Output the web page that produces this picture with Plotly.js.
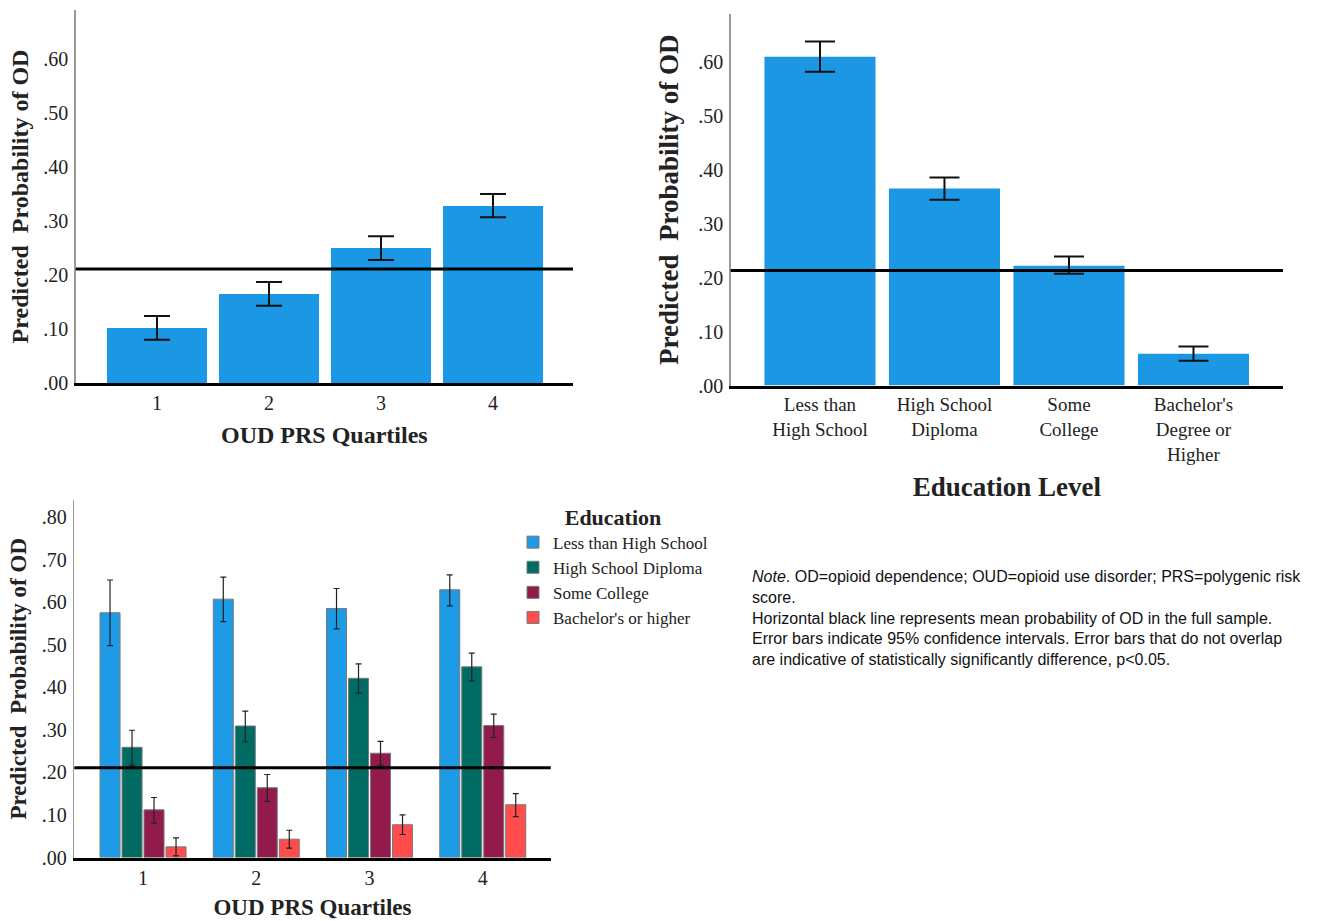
<!DOCTYPE html>
<html>
<head>
<meta charset="utf-8">
<script src="https://cdn.plot.ly/plotly-3.0.1.min.js"></script>
<style>
  html, body { margin: 0; padding: 0; background: #ffffff; }
  #chart { width: 1336px; height: 921px; }
</style>
</head>
<body>
<div id="chart"></div>
<script>
// ---------- DATA ----------
// Panel A: predicted probability of OD by OUD PRS quartile
const quartileLabels = ['1', '2', '3', '4'];
const quartileProb   = [0.102, 0.165, 0.250, 0.328];
const quartileLower  = [0.080, 0.143, 0.228, 0.307];
const quartileUpper  = [0.124, 0.187, 0.272, 0.350];

// Panel B: predicted probability of OD by education level
const educationLabels = ['Less than<br>High School', 'High School<br>Diploma', 'Some<br>College', "Bachelor's<br>Degree or<br>Higher"];
const educationProb   = [0.609, 0.365, 0.222, 0.059];
const educationLower  = [0.581, 0.344, 0.207, 0.046];
const educationUpper  = [0.637, 0.385, 0.239, 0.072];

// Panel C: by quartile and education
const groupNames = ['Less than High School', 'High School Diploma', 'Some College', "Bachelor's or higher"];
const lessThanHS      = [0.575, 0.607, 0.585, 0.629];
const lessThanHSLower = [0.498, 0.554, 0.537, 0.591];
const lessThanHSUpper = [0.652, 0.659, 0.632, 0.664];
const hsDiploma       = [0.259, 0.309, 0.421, 0.448];
const hsDiplomaLower  = [0.217, 0.272, 0.386, 0.415];
const hsDiplomaUpper  = [0.299, 0.344, 0.455, 0.480];
const someCollege      = [0.112, 0.164, 0.245, 0.310];
const someCollegeLower = [0.081, 0.132, 0.217, 0.282];
const someCollegeUpper = [0.141, 0.195, 0.273, 0.337];
const bachelors      = [0.025, 0.043, 0.077, 0.124];
const bachelorsLower = [0.004, 0.022, 0.054, 0.096];
const bachelorsUpper = [0.046, 0.064, 0.100, 0.150];

// mean probability of OD in the full sample (horizontal line) per panel
const meanProb = [0.211, 0.213, 0.211];

// y tick labels
const tickValsTop = [0, 0.1, 0.2, 0.3, 0.4, 0.5, 0.6];
const tickTextTop = ['.00', '.10', '.20', '.30', '.40', '.50', '.60'];
const tickValsBottom = [0, 0.1, 0.2, 0.3, 0.4, 0.5, 0.6, 0.7, 0.8];
const tickTextBottom = ['.00', '.10', '.20', '.30', '.40', '.50', '.60', '.70', '.80'];

const noteLines = [
  '<i>Note</i>. OD=opioid dependence; OUD=opioid use disorder; PRS=polygenic risk',
  'score.',
  'Horizontal black line represents mean probability of OD in the full sample.',
  'Error bars indicate 95% confidence intervals. Error bars that do not overlap',
  'are indicative of statistically significantly difference, p&lt;0.05.'
];

// ---------- STYLE ----------
const W = 1336, H = 921;
const SERIF = '"Liberation Serif", "Times New Roman", serif';
const SANS = '"Liberation Sans", Arial, sans-serif';
const topBlue = '#1b97e3';
const groupColors = ['#1e9be6', '#006b62', '#931b4c', '#ff4d4d'];

function px(a, b) { return [a / W, b / W]; }
function py(top, bottom) { return [1 - bottom / H, 1 - top / H]; }
function diff(a, b) { return a.map((v, i) => v - b[i]); }

const traces = [];

traces.push({
  type: 'bar', x: quartileLabels, y: quartileProb, xaxis: 'x', yaxis: 'y',
  width: 0.893, marker: { color: topBlue }, showlegend: false, hoverinfo: 'y',
  error_y: { type: 'data', symmetric: false, array: diff(quartileUpper, quartileProb),
             arrayminus: diff(quartileProb, quartileLower), color: '#111', thickness: 2, width: 13 }
});

traces.push({
  type: 'bar', x: educationLabels, y: educationProb, xaxis: 'x2', yaxis: 'y2',
  width: 0.892, marker: { color: topBlue }, showlegend: false, hoverinfo: 'y',
  error_y: { type: 'data', symmetric: false, array: diff(educationUpper, educationProb),
             arrayminus: diff(educationProb, educationLower), color: '#111', thickness: 2, width: 15 }
});

const groupVals  = [lessThanHS, hsDiploma, someCollege, bachelors];
const groupLower = [lessThanHSLower, hsDiplomaLower, someCollegeLower, bachelorsLower];
const groupUpper = [lessThanHSUpper, hsDiplomaUpper, someCollegeUpper, bachelorsUpper];
groupNames.forEach((name, i) => {
  traces.push({
    type: 'bar', name: name, x: quartileLabels, y: groupVals[i], xaxis: 'x3', yaxis: 'y3',
    marker: { color: groupColors[i], line: { color: '#7a7a7a', width: 1 } },
    error_y: { type: 'data', symmetric: false, array: diff(groupUpper[i], groupVals[i]),
               arrayminus: diff(groupVals[i], groupLower[i]), color: '#222', thickness: 1.2, width: 3 }
  });
});

const yCommon = {
  showgrid: false, zeroline: false, showline: true, linecolor: '#9a9a9a', linewidth: 1.5,
  ticks: '', ticklen: 0, ticklabelstandoff: 2,
  tickfont: { family: SERIF, size: 20, color: '#222' }
};
const xCommon = {
  showgrid: false, zeroline: false, showline: true, linecolor: '#000', linewidth: 3,
  ticks: '', ticklen: 0, type: 'category',
  tickfont: { family: SERIF, size: 20, color: '#222' }
};

const layout = {
  width: W, height: H,
  margin: { l: 0, r: 0, t: 0, b: 0 },
  paper_bgcolor: '#fff', plot_bgcolor: '#fff',
  barmode: 'group', bargap: 0.223, bargroupgap: 0.09,
  showlegend: true,
  xaxis: Object.assign({}, xCommon, {
    domain: px(75.7, 573), range: [-0.726, 3.714], anchor: 'y',
    title: { text: 'OUD PRS Quartiles', standoff: 14, font: { family: SERIF, size: 24, color: '#222', weight: 'bold' } }
  }),
  yaxis: Object.assign({}, yCommon, {
    domain: py(10, 383), range: [0, 0.691], anchor: 'x',
    tickvals: tickValsTop, ticktext: tickTextTop,
    title: { text: 'Predicted  Probability of OD', standoff: 8, font: { family: SERIF, size: 24, color: '#222', weight: 'bold' } }
  }),
  xaxis2: Object.assign({}, xCommon, {
    domain: px(730.7, 1283), range: [-0.717, 3.719], anchor: 'y2',
    tickfont: { family: SERIF, size: 19, color: '#222' },
    title: { text: 'Education Level', standoff: 14, font: { family: SERIF, size: 27, color: '#222', weight: 'bold' } }
  }),
  yaxis2: Object.assign({}, yCommon, {
    domain: py(14, 385.5), range: [0, 0.688], anchor: 'x2',
    tickvals: tickValsTop, ticktext: tickTextTop,
    title: { text: 'Predicted  Probability of OD', standoff: 12, font: { family: SERIF, size: 27, color: '#222', weight: 'bold' } }
  }),
  xaxis3: Object.assign({}, xCommon, {
    domain: px(74.3, 550.7), range: [-0.607, 3.60], anchor: 'y3',
    title: { text: 'OUD PRS Quartiles', standoff: 12, font: { family: SERIF, size: 23, color: '#222', weight: 'bold' } }
  }),
  yaxis3: Object.assign({}, yCommon, {
    domain: py(500, 857.5), range: [0, 0.84], anchor: 'x3',
    tickvals: tickValsBottom, ticktext: tickTextBottom,
    title: { text: 'Predicted  Probability of OD', standoff: 8, font: { family: SERIF, size: 23, color: '#222', weight: 'bold' } }
  }),
  legend: {
    x: 513 / W, y: 1 - 496 / H, xanchor: 'left', yanchor: 'top',
    bgcolor: 'rgba(0,0,0,0)', borderwidth: 0,
    font: { family: SERIF, size: 17, color: '#222' },
    title: { text: 'Education', side: 'top center', font: { family: SERIF, size: 22, color: '#222', weight: 'bold' } },
    traceorder: 'normal', itemclick: false
  },
  shapes: [
    { type: 'line', xref: 'x domain', yref: 'y', x0: 0, x1: 1, y0: meanProb[0], y1: meanProb[0], line: { color: '#000', width: 3 } },
    { type: 'line', xref: 'x2 domain', yref: 'y2', x0: 0, x1: 1, y0: meanProb[1], y1: meanProb[1], line: { color: '#000', width: 3 } },
    { type: 'line', xref: 'x3 domain', yref: 'y3', x0: 0, x1: 1, y0: meanProb[2], y1: meanProb[2], line: { color: '#000', width: 3 } }
  ],
  annotations: [{
    xref: 'paper', yref: 'paper', x: 750 / W, y: 1 - 566 / H, xanchor: 'left', yanchor: 'top',
    align: 'left', showarrow: false, text: noteLines.join('<br>'),
    font: { family: SANS, size: 16, color: '#111' }
  }]
};

Plotly.newPlot('chart', traces, layout, { staticPlot: true, displayModeBar: false });
</script>
</body>
</html>
